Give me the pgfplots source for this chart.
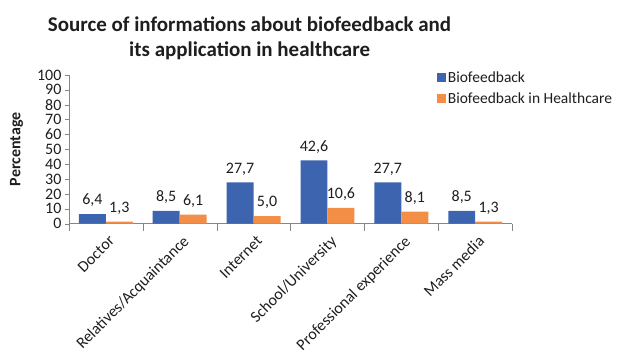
\documentclass[border=0pt]{standalone}
\usepackage{fontspec}
\setmainfont{Carlito}
\usepackage{pgfplots}
\pgfplotsset{compat=1.18}
\definecolor{bfblue}{RGB}{60,100,175}
\definecolor{bforange}{RGB}{242,142,70}
\definecolor{axgray}{RGB}{134,134,134}
\definecolor{txt}{RGB}{30,30,30}
\begin{document}
\begin{tikzpicture}[x=1pt,y=1pt]
\path (0,0) rectangle (617,352);
\node[font=\fontsize{21}{25}\selectfont\bfseries, align=center, text=txt] at (250,314) {Source of informations about biofeedback and\\its application in healthcare};
\begin{axis}[
  at={(69pt,128pt)}, anchor=south west,
  scale only axis, width=444pt, height=149pt,
  /pgf/number format/assume math mode=true,
  ymin=0, ymax=100, ytick={0,10,...,100},
  xmin=-0.5, xmax=5.5,
  xtick={0,...,5},
  xticklabels={Doctor,Relatives/Acquaintance,Internet,School/University,Professional experience,Mass media},
  minor xtick={-0.5,0.5,...,5.5},
  major x tick style={draw=none},
  minor x tick style={draw=axgray},
  ytick style={draw=axgray},
  tick align=outside,
  major tick length=4pt, minor tick length=7pt,
  axis x line*=bottom, axis y line*=left,
  axis line style={draw=axgray},
  ybar=0pt, bar width=27pt,
  ylabel={Percentage},
  ylabel style={at={(axis description cs:-0.118,0.5)}, anchor=center, font=\fontsize{16}{18}\selectfont\bfseries, text=txt},
  yticklabel style={font=\fontsize{16}{18}\selectfont, text=txt},
  xticklabel style={rotate=45, anchor=north east, font=\fontsize{16}{18}\selectfont, text=txt, yshift=-3pt},
  nodes near coords={\pgfmathprintnumber[fixed,fixed zerofill,precision=1,use comma]{\pgfplotspointmeta}},
  nodes near coords style={font=\fontsize{16}{18}\selectfont, text=txt, inner sep=4pt, yshift=3pt},
  legend style={at={(axis description cs:0.823,1.05)}, anchor=north west, draw=none, fill=none, font=\fontsize{15.5}{17}\selectfont, text=txt, row sep=5pt},
  legend cell align=left,
  legend image code/.code={\fill[#1] (0pt,-4.5pt) rectangle (9pt,4.5pt);},
]
\addplot[fill=bfblue, draw=none] coordinates {(0,6.4) (1,8.5) (2,27.7) (3,42.6) (4,27.7) (5,8.5)};
\addplot[fill=bforange, draw=none] coordinates {(0,1.3) (1,6.1) (2,5.0) (3,10.6) (4,8.1) (5,1.3)};
\legend{Biofeedback,Biofeedback in Healthcare}
\end{axis}
\end{tikzpicture}
\end{document}
